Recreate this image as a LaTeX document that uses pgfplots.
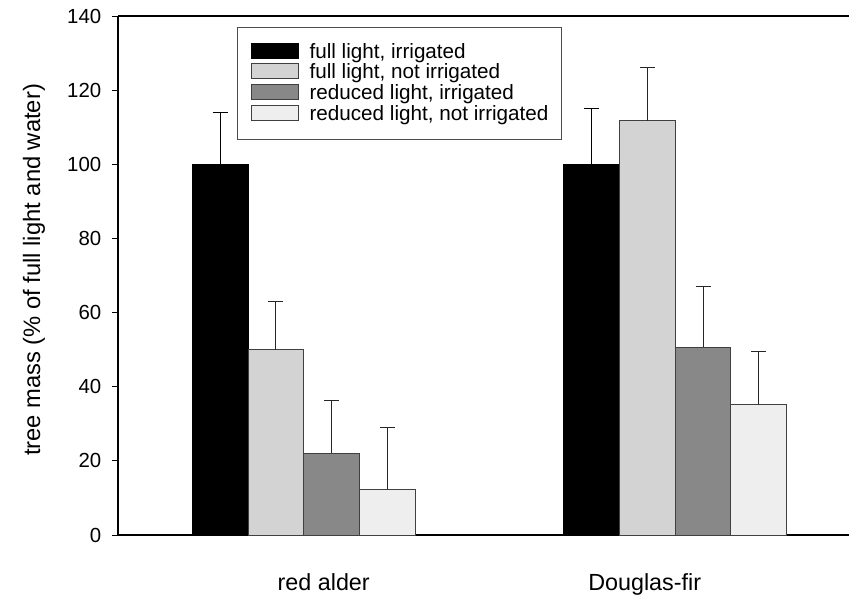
\documentclass[border=0pt]{standalone}
\usepackage{fontspec}
\setmainfont{Liberation Sans}
\usepackage{pgfplots}
\pgfplotsset{compat=1.18}
\definecolor{cA}{RGB}{0,0,0}
\definecolor{cB}{RGB}{211,211,211}
\definecolor{cC}{RGB}{136,136,136}
\definecolor{cD}{RGB}{238,238,238}
\begin{document}
\begin{tikzpicture}
\path[use as bounding box] (-88.5pt,-44.25pt) rectangle (548.25pt,401.25pt);
\begin{axis}[
  at={(0,0)}, anchor=south west,
  scale only axis, width=557.25pt, height=389.25pt,
  xmin=-0.5, xmax=1.5, ymin=0, ymax=140,
  axis x line*=box, axis y line*=left,
  axis line style={line width=0.9pt, black},
  ytick={0,20,...,140},
  tick align=outside,
  major tick length=4.5pt,
  ytick style={line width=0.75pt, black},
  xtick={0.0538,0.9177},
  xticklabels={red alder, Douglas-fir},
  major x tick style={draw=none},
  /pgf/number format/assume math mode=true,
  yticklabel style={font=\fontsize{15.3}{18}\selectfont, xshift=-4.5pt},
  xticklabel style={font=\fontsize{17.5}{20}\selectfont, yshift=-21pt},
  ylabel={tree mass (\% of full light and water)},
  ylabel style={font=\fontsize{17.8}{20}\selectfont, at={(axis description cs:-0.1130,0.5106)}, anchor=center},
  legend style={at={(axis description cs:0.1602,0.9788)}, anchor=north west,
    draw=black!70, line width=0.75pt, inner xsep=9.75pt, inner ysep=11pt,
    row sep=0pt, column sep=8.25pt,
    font=\fontsize{15.5}{18}\selectfont,
    nodes={inner sep=0pt, text height=12pt, text depth=3.5pt}},
  legend cell align=left,
  legend image code/.code={\draw[#1, line width=0.75pt] (0pt,-4.3pt) rectangle (35.25pt,6.9pt);},
  clip=false,
]
\addplot[ybar, bar width=0.15, bar shift=0pt, fill=cA, draw=black, line width=0.75pt,
  error bars/.cd, y dir=plus, y explicit,
  error bar style={line width=0.75pt, black},
  error mark options={rotate=90, mark size=5.6pt, line width=0.75pt, black}]
  coordinates {(-0.225,100) +- (0,14) (0.775,100) +- (0,15)};
\addlegendentry{full light, irrigated}
\addplot[ybar, bar width=0.15, bar shift=0pt, fill=cB, draw=black!75, line width=0.75pt,
  error bars/.cd, y dir=plus, y explicit,
  error bar style={line width=0.75pt, black!85},
  error mark options={rotate=90, mark size=5.6pt, line width=0.75pt, black!85}]
  coordinates {(-0.075,50) +- (0,12.9) (0.925,111.8) +- (0,14.3)};
\addlegendentry{full light, not irrigated}
\addplot[ybar, bar width=0.15, bar shift=0pt, fill=cC, draw=black!75, line width=0.75pt,
  error bars/.cd, y dir=plus, y explicit,
  error bar style={line width=0.75pt, black!85},
  error mark options={rotate=90, mark size=5.6pt, line width=0.75pt, black!85}]
  coordinates {(0.075,22.1) +- (0,14.3) (1.075,50.7) +- (0,16.2)};
\addlegendentry{reduced light, irrigated}
\addplot[ybar, bar width=0.15, bar shift=0pt, fill=cD, draw=black!75, line width=0.75pt,
  error bars/.cd, y dir=plus, y explicit,
  error bar style={line width=0.75pt, black!85},
  error mark options={rotate=90, mark size=5.6pt, line width=0.75pt, black!85}]
  coordinates {(0.225,12.4) +- (0,16.7) (1.225,35.1) +- (0,14.5)};
\addlegendentry{reduced light, not irrigated\hspace{10.5pt}}
\end{axis}
\end{tikzpicture}
\end{document}
